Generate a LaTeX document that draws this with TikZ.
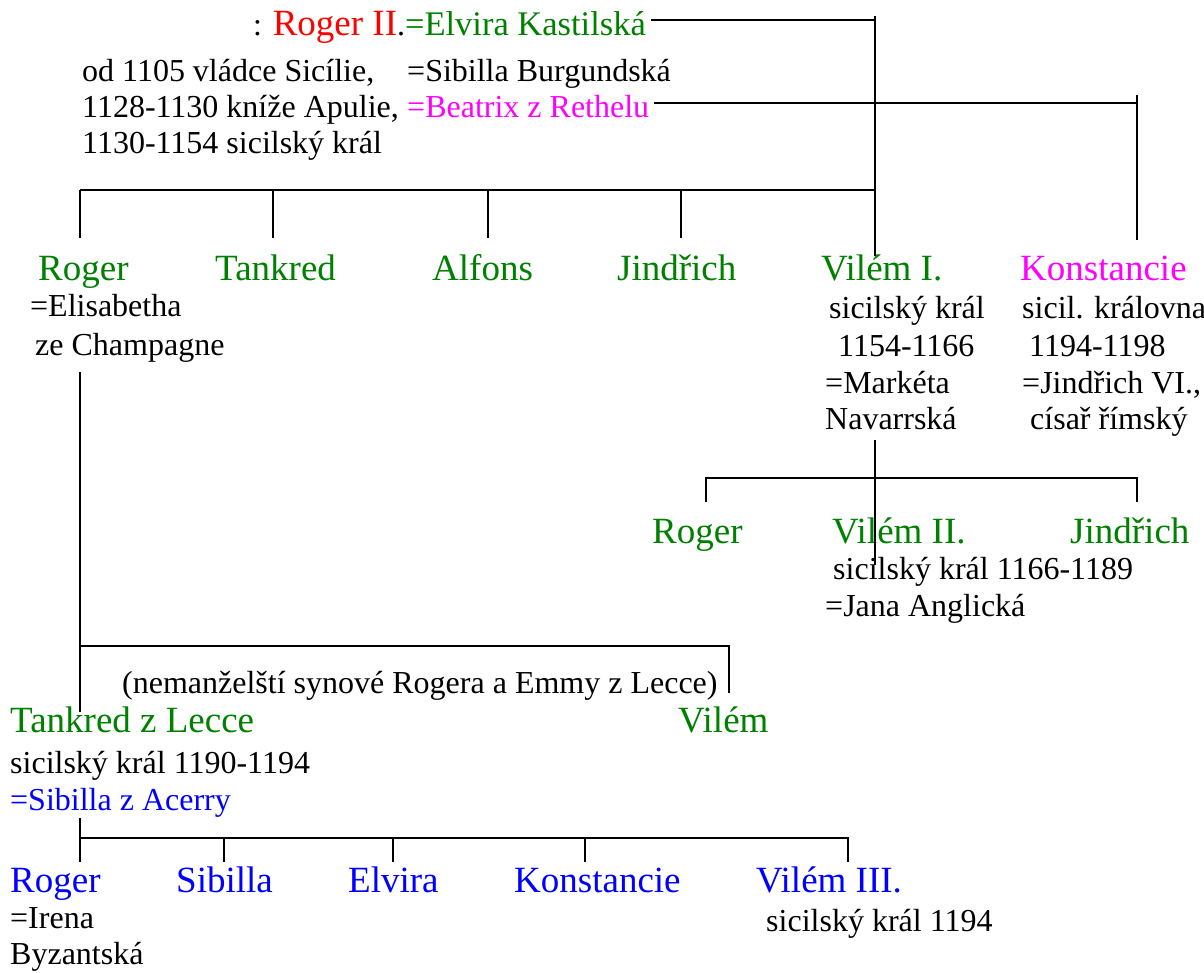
\documentclass[tikz,border=0pt]{standalone}
\usepackage{fontspec}
\setmainfont{Liberation Serif}
\definecolor{grn}{RGB}{0,128,0}
\definecolor{mag}{RGB}{255,0,255}
\definecolor{blu}{RGB}{0,0,255}
\definecolor{rd}{RGB}{255,0,0}
\newcommand\bgfont{\fontsize{37}{42}\selectfont}
\newcommand\mdfont{\fontsize{34.5}{40}\selectfont}
\begin{document}
\begin{tikzpicture}[x=1pt,y=-1pt,
  sm/.style={font=\fontsize{32}{37}\selectfont, inner sep=0pt, anchor=base west},
  bgn/.style={font=\bgfont, inner sep=0pt, anchor=base west},
  ln/.style={line width=1.8pt}]
\useasboundingbox (0,0) rectangle (1204,972);

% --- Roger II and wives
\node[sm] (r2) at (253,35) {: \textcolor{rd}{\bgfont Roger II}.\textcolor{grn}{\mdfont =Elvira Kastilská}};
\node[sm] (d1) at (82,81) {od 1105 vládce Sicílie,};
\node[sm] (d2) at (82,117) {1128-1130 kníže Apulie,};
\node[sm] (d3) at (82,153) {1130-1154 sicilský král};
\node[sm] (w2) at (407,81) {=Sibilla Burgundská};
\node[sm,text=mag] (w3) at (407,117) {=Beatrix z Rethelu};

% --- children of Roger II
\node[bgn,text=grn] (rog1) at (38,280) {Roger};
\node[bgn,text=grn] (tan) at (215,280) {Tankred};
\node[bgn,text=grn] (alf) at (432,280) {Alfons};
\node[bgn,text=grn] (jin) at (617,280) {Jindřich};
\node[bgn,text=grn] (vil1) at (821,280) {Vilém I.};
\node[bgn,text=mag] (kon) at (1020,280) {Konstancie};

\node[sm] (e1) at (30,316) {=Elisabetha};
\node[sm] (e2) at (35,355) {ze Champagne};

\node[sm] (v1a) at (829,318) {sicilský král};
\node[sm] (v1b) at (838,356) {1154-1166};
\node[sm] (v1c) at (825,393) {=Markéta};
\node[sm] (v1d) at (825,429) {Navarrská};

\node[sm] (k1) at (1022,318) {sicil. královna};
\node[sm] (k2) at (1029,356) {1194-1198};
\node[sm] (k3) at (1022,393) {=Jindřich VI.,};
\node[sm] (k4) at (1030,429) {císař římský};

% --- children of Vilém I.
\node[bgn,text=grn] (rog2) at (652,543) {Roger};
\node[bgn,text=grn] (vil2) at (832,543) {Vilém II.};
\node[bgn,text=grn] (jin2) at (1070,543) {Jindřich};
\node[sm] (v2a) at (833,579) {sicilský král 1166-1189};
\node[sm] (v2b) at (825,616) {=Jana Anglická};

% --- illegitimate sons of Roger
\node[sm] (nem) at (122,693) {(nemanželští synové Rogera a Emmy z Lecce)};
\node[bgn,text=grn] (tzl) at (10,732) {Tankred z Lecce};
\node[bgn,text=grn] (vil) at (678,732) {Vilém};
\node[sm] (t1) at (10,773) {sicilský král 1190-1194};
\node[sm,text=blu] (t2) at (10,810) {=Sibilla z Acerry};

% --- children of Tankred
\node[bgn,text=blu] (rog3) at (10,892) {Roger};
\node[bgn,text=blu] (sib) at (176,892) {Sibilla};
\node[bgn,text=blu] (elv) at (348,892) {Elvira};
\node[bgn,text=blu] (kon3) at (514,892) {Konstancie};
\node[bgn,text=blu] (vil3) at (756,892) {Vilém III.};
\node[sm] (i1) at (10,928) {=Irena};
\node[sm] (i2) at (10,964) {Byzantská};
\node[sm] (v3) at (766,931) {sicilský král 1194};

% --- connectors
\coordinate (jA) at (875,20);
\coordinate (jB) at (1137,103);
\draw[ln] ([xshift=5pt]r2.east |- jA) -- (jA);
\draw[ln] ([yshift=4pt]jA) -- ++(0,240);
\draw[ln] ([xshift=5pt]w3.east |- jB) -- (jB);
\draw[ln] ([yshift=8pt]jB) -- ++(0,145);

\coordinate (cb) at (80,190);
\coordinate (cb2) at (273,190);
\coordinate (cb3) at (488,190);
\coordinate (cb4) at (681,190);
\draw[ln] (cb) -- (cb -| jA);
\foreach \c in {cb,cb2,cb3,cb4} \draw[ln] (\c) -- ++(0,48);

% Roger -> illegitimate sons
\coordinate (rl) at (80,372);
\coordinate (ib) at (80,646);
\coordinate (ib2) at (729,646);
\draw[ln] (rl) -- ++(0,340);
\draw[ln] (ib) -- (ib2) -- ++(0,47);

% Vilém I. -> children
\coordinate (vl) at (875,440);
\coordinate (vb) at (706,478);
\coordinate (vb2) at (1137,478);
\draw[ln] (vl) -- ++(0,125);
\draw[ln] (vb) ++(0,24) -- (vb) -- (vb2) -- ++(0,24);

% Tankred -> children
\coordinate (tl) at (80,818);
\coordinate (tb2) at (224,838);
\coordinate (tb3) at (393,838);
\coordinate (tb4) at (585,838);
\coordinate (tb5) at (848,838);
\draw[ln] (tl) -- ++(0,44);
\draw[ln] (tl |- tb2) -- (tb5) -- ++(0,24);
\foreach \c in {tb2,tb3,tb4} \draw[ln] (\c) -- ++(0,24);
\end{tikzpicture}
\end{document}
